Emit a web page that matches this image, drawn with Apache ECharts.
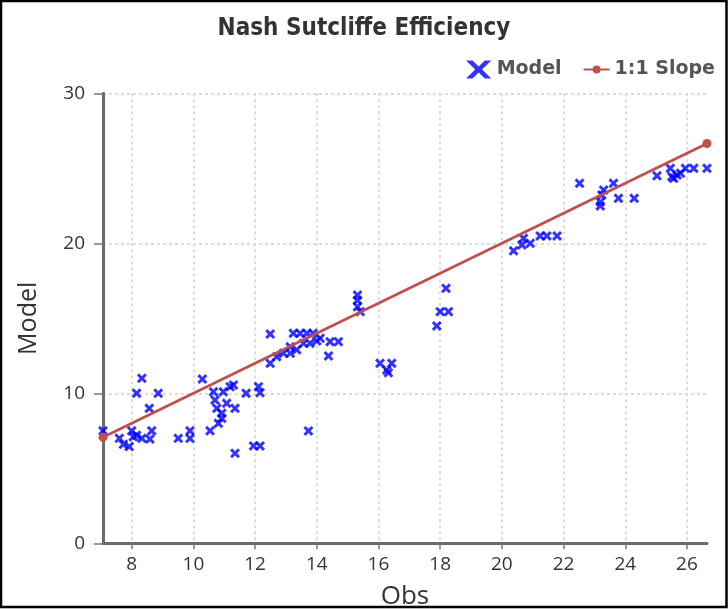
<!DOCTYPE html>
<html><head><meta charset="utf-8">
<script src="https://cdn.jsdelivr.net/npm/echarts@6/dist/echarts.min.js"></script>
<style>html,body{margin:0;padding:0;background:#fff}#c{width:728px;height:610px}</style>
</head><body><div id="c"></div>
<script>
const obs = [8.33,8.16,8.86,8.57,7.07,7.60,7.73,7.92,8.05,8.16,8.33,8.65,8.59,8.00,9.51,9.89,9.89,10.29,10.54,10.81,
  10.92,10.65,10.70,10.76,10.97,11.19,11.30,11.35,11.08,10.92,11.71,12.11,12.16,11.35,11.95,12.16,12.49,13.73,12.49,12.70,
  12.92,13.14,13.24,13.46,13.68,13.14,13.35,13.57,13.78,14.11,14.43,14.70,14.38,14.00,13.88,15.32,15.32,15.32,15.41,16.05,
  16.43,16.27,16.32,17.89,18.00,18.27,18.19,20.38,20.65,20.70,20.92,21.24,21.46,21.79,22.52,23.19,23.19,23.24,23.30,23.62,
  23.78,24.29,25.03,25.46,25.51,25.68,25.79,25.57,25.95,26.22,26.65];
const model = [11.0,10.0,10.0,9.0,7.5,7.0,6.6,6.45,7.1,7.2,7.0,7.5,6.95,7.5,7.0,7.5,7.0,10.95,7.5,8.0,
  8.33,10.1,9.55,9.0,10.1,10.44,10.55,9.0,9.33,8.67,10.0,10.44,10.04,6.0,6.49,6.49,13.95,7.49,12.0,12.44,
  12.67,13.1,14.0,14.0,14.0,12.67,12.9,13.33,13.33,13.67,13.44,13.44,12.49,13.49,14.0,16.55,16.2,15.77,15.44,12.0,
  12.0,11.55,11.37,14.49,15.44,15.44,17.0,19.5,19.89,20.33,20.0,20.49,20.49,20.49,24.0,22.49,22.77,23.22,23.55,24.0,
  23.0,23.0,24.5,25.0,24.44,24.55,24.67,24.33,25.0,25.0,25.0];
const slopeEnds = [7.07, 26.65];
const xTicks = [8,10,12,14,16,18,20,22,24,26];
const yMin = 0, yMax = 30, yStep = 10;

const xPath = 'path://M0,2.1 L2.1,0 L5,2.9 L7.9,0 L10,2.1 L7.1,5 L10,7.9 L7.9,10 L5,7.1 L2.1,10 L0,7.9 L2.9,5 Z';
const legendX = 'path://M0,0 L3.6,0 L7,3.4 L10.4,0 L14,0 L8.9,5 L14,10 L10.4,10 L7,6.6 L3.6,10 L0,10 L5.1,5 Z';
const legendLine = 'path://M0,3.1 L26,3.1 L26,4.9 L0,4.9 Z M9,4 A4,4 0 1,1 17,4 A4,4 0 1,1 9,4 Z';
const labelFont = 'Open Sans';

const chart = echarts.init(document.getElementById('c'), null, {renderer:'canvas'});
chart.setOption({
  animation: false,
  backgroundColor: '#fff',
  title: {
    text: 'Nash Sutcliffe Efficiency', left: 'center', top: 12,
    textStyle: {fontFamily: '"DejaVu Sans Condensed", "Liberation Sans Narrow", sans-serif', fontWeight: 'bold', fontSize: 24, color: '#333'}
  },
  legend: {
    right: 8, top: 55, itemWidth: 26, itemHeight: 18, itemGap: 22,
    textStyle: {fontFamily: 'DejaVu Sans', fontWeight: 'bold', fontSize: 19, color: '#555'},
    data: [{name: 'Model', icon: legendX}, {name: '1:1 Slope', icon: legendLine}]
  },
  grid: {left: 103, right: 21, top: 93.3, bottom: 66.7, outerBoundsMode: 'none'},
  xAxis: {
    type: 'value', min: slopeEnds[0], max: slopeEnds[1],
    name: 'Obs', nameLocation: 'middle', nameGap: 40,
    nameTextStyle: {fontFamily: labelFont, fontSize: 26, color: '#333'},
    axisLine: {show: true, onZero: false, lineStyle: {color: '#6b6b6b', width: 3}},
    axisTick: {show: true, customValues: xTicks, length: 6, lineStyle: {color: '#777', width: 1.5}},
    axisLabel: {customValues: xTicks, margin: 12, fontFamily: labelFont, fontSize: 19, color: '#333'},
    splitLine: {show: true, lineStyle: {color: '#dcdcdc', width: 2, type: [3, 3]}}
  },
  yAxis: {
    type: 'value', min: yMin, max: yMax, interval: yStep,
    name: 'Model', nameLocation: 'middle', nameGap: 62,
    nameTextStyle: {fontFamily: labelFont, fontSize: 25, color: '#333'},
    axisLine: {show: true, onZero: false, lineStyle: {color: '#6b6b6b', width: 3}},
    axisTick: {show: true, length: 9, lineStyle: {color: '#777', width: 1.5}},
    axisLabel: {margin: 18, fontFamily: labelFont, fontSize: 19, color: '#333'},
    splitLine: {show: true, lineStyle: {color: '#dcdcdc', width: 2, type: [3, 3]}}
  },
  series: [
    {
      name: 'Model', type: 'scatter', symbol: xPath, symbolSize: 10,
      itemStyle: {color: '#0000ff'},
      data: obs.map((v, i) => [v, model[i]])
    },
    {
      name: '1:1 Slope', type: 'line', symbol: 'circle', symbolSize: 9, showSymbol: true,
      itemStyle: {color: '#c0504d'}, lineStyle: {color: '#c0504d', width: 2.8},
      data: slopeEnds.map(v => [v, v])
    }
  ],
  graphic: [{
    type: 'rect', z: 100, silent: true,
    shape: {x: 1, y: 1, width: 725.5, height: 606},
    style: {fill: null, stroke: '#000', lineWidth: 2.5}
  }]
});
</script></body></html>
